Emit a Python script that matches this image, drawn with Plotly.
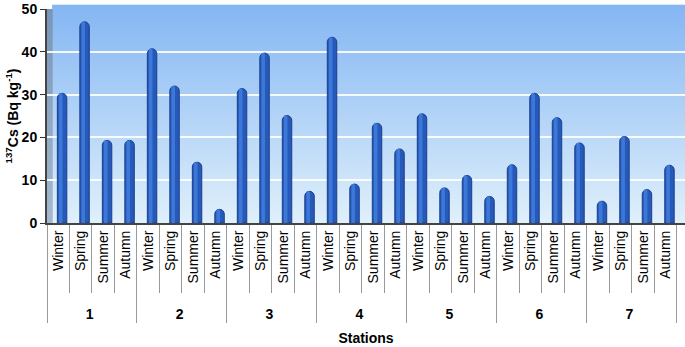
import base64, struct, zlib
import plotly.graph_objects as go

stations = ["1", "2", "3", "4", "5", "6", "7"]
seasons = ["Winter", "Spring", "Summer", "Autumn"]
cs137 = [
    30.3, 47.0, 19.3, 19.3,
    40.7, 32.0, 14.2, 3.2,
    31.4, 39.7, 25.1, 7.4,
    43.4, 9.1, 23.3, 17.3,
    25.5, 8.2, 11.1, 6.2,
    13.6, 30.3, 24.6, 18.7,
    5.1, 20.2, 7.8, 13.5,
]
y_ticks = [0, 10, 20, 30, 40, 50]

PAD = "\u00a0" * 2  # invisible lead-in so the station row sits lower, as in the reference
outer = [f"<b>{s}</b>" for s in stations for _ in seasons]
inner = [PAD + se for _ in stations for se in seasons]


def gradient_png(top, bottom, h=256):
    raw = b""
    for i in range(h):
        t = i / (h - 1)
        rgb = bytes(int(round(top[k] + (bottom[k] - top[k]) * t)) for k in range(3))
        raw += b"\x00" + rgb

    def chunk(tag, data):
        c = struct.pack(">I", len(data)) + tag + data
        return c + struct.pack(">I", zlib.crc32(tag + data) & 0xFFFFFFFF)

    png = b"\x89PNG\r\n\x1a\n"
    png += chunk(b"IHDR", struct.pack(">IIBBBBB", 1, h, 8, 2, 0, 0, 0))
    png += chunk(b"IDAT", zlib.compress(raw))
    png += chunk(b"IEND", b"")
    return "data:image/png;base64," + base64.b64encode(png).decode()


bg = gradient_png((132, 182, 243), (224, 240, 251))
wall = gradient_png((120, 150, 185), (165, 185, 205))

fig = go.Figure()
fig.add_trace(go.Bar(
    x=[outer, inner], y=cs137,
    width=0.42, offset=-0.04,
    marker=dict(color="#2659ba", line=dict(color="#1a3f8a", width=1), cornerradius="50%"),
    showlegend=False, hoverinfo="y",
))
fig.add_trace(go.Bar(
    x=[outer, inner], y=cs137,
    width=0.16, offset=0.03,
    marker=dict(color="#3c78d8", line=dict(width=0), cornerradius="50%"),
    showlegend=False, hoverinfo="skip",
))

fig.update_layout(
    width=685, height=347,
    margin=dict(l=47, r=0, t=9, b=124),
    paper_bgcolor="white", plot_bgcolor="white",
    barmode="overlay",
    font=dict(family="Liberation Sans, Arial, sans-serif", color="black"),
    images=[
        dict(source=bg, xref="paper", yref="paper", x=0.008, y=1.02, sizex=0.992, sizey=1.02,
             sizing="stretch", layer="below", xanchor="left", yanchor="top"),
        dict(source=wall, xref="paper", yref="paper", x=0, y=1.0, sizex=0.009, sizey=1.0,
             sizing="stretch", layer="below", xanchor="left", yanchor="top"),
    ],
    xaxis=dict(
        type="multicategory",
        automargin=False,
        range=[-0.5, 27.86],
        tickangle=-90,
        tickfont=dict(size=14),
        tickson="boundaries",
        ticks="outside", ticklen=68, tickcolor="#9a9a9a", tickwidth=1,
        showdividers=True, dividercolor="#9a9a9a", dividerwidth=1,
        showline=True, linecolor="#444444", linewidth=2,
        showgrid=False,
        title=dict(text="<b>Stations</b>", font=dict(size=14), standoff=12),
    ),
    yaxis=dict(
        automargin=False,
        range=[0, 50], tickvals=y_ticks,
        tickfont=dict(size=14, weight="bold"),
        ticks="outside", ticklen=5, tickcolor="#333333",
        showline=True, linecolor="#444444", linewidth=2,
        showgrid=True, gridcolor="rgba(255,255,255,0.9)", gridwidth=2,
        zeroline=False,
        title=dict(text="<b><sup>137</sup>Cs (Bq kg<sup>-1</sup>)</b>", font=dict(size=14), standoff=0),
    ),
)

fig.write_html("out.html", config={"displayModeBar": False},
               post_script="document.body.style.margin='0';")
